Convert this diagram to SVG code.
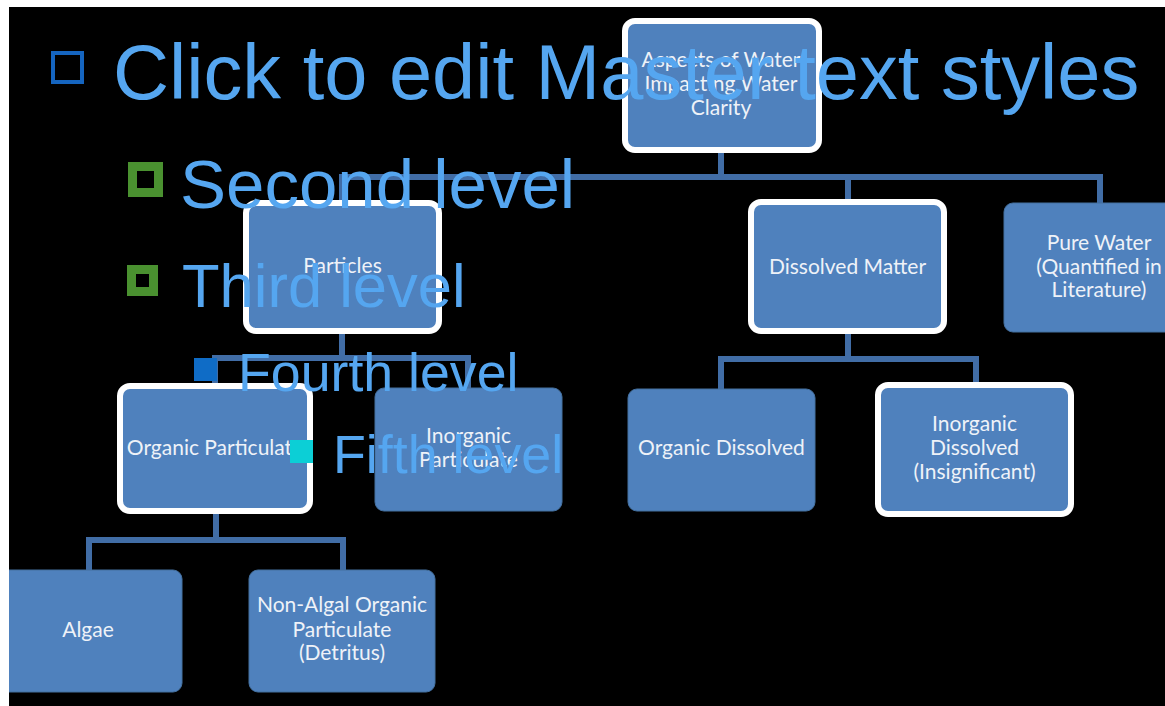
<svg xmlns="http://www.w3.org/2000/svg" width="1165" height="706" viewBox="0 0 1165 706">
<defs>
<clipPath id="slide"><rect x="9" y="7" width="1156" height="699"/></clipPath>
<style>
.box{fill:#4f81bd;}
.plain{stroke:#44709f;stroke-width:1;}
.bord{stroke:#ffffff;stroke-width:6;}
.lbl{font-family:Lato,"Liberation Sans",sans-serif;font-size:21px;fill:#eef2f8;text-anchor:middle;}
.conn{fill:none;stroke:#416da6;stroke-width:6;stroke-linejoin:miter;}
.ph{font-family:"Liberation Sans",Arial,sans-serif;fill:#55a6f0;}
</style>
</defs>
<rect x="0" y="0" width="1165" height="706" fill="#ffffff"/>
<rect x="9" y="7" width="1156" height="699" fill="#000000"/>
<g clip-path="url(#slide)">
<g id="connectors">
<path class="conn" d="M342,203 V177 H1100 V206"/>
<path class="conn" d="M721,150 V177"/>
<path class="conn" d="M848,177 V202"/>
<path class="conn" d="M342,331 V358"/>
<path class="conn" d="M215,386 V358 H468 V390"/>
<path class="conn" d="M848,331 V359"/>
<path class="conn" d="M721,391 V359 H976 V385"/>
<path class="conn" d="M216,511 V540"/>
<path class="conn" d="M89,572 V540 H343 V572"/>
</g>
<g id="node-root">
<rect class="box bord" x="625" y="21" width="194" height="129" rx="10"/>
<text class="lbl" x="721" y="67">Aspects of Water</text>
<text class="lbl" x="721" y="91">Impacting Water</text>
<text class="lbl" x="721" y="115">Clarity</text>
</g>
<g id="node-particles">
<rect class="box bord" x="246" y="203" width="193" height="128" rx="10"/>
<text class="lbl" x="342.5" y="273">Particles</text>
</g>
<g id="node-dissolved">
<rect class="box bord" x="751" y="202" width="193" height="129" rx="10"/>
<text class="lbl" x="847.5" y="274">Dissolved Matter</text>
</g>
<g id="node-purewater">
<rect class="box plain" x="1004" y="203" width="192" height="129" rx="9"/>
<text class="lbl" x="1099" y="250">Pure Water</text>
<text class="lbl" x="1099" y="274">(Quantified in</text>
<text class="lbl" x="1099" y="297">Literature)</text>
</g>
<g id="node-organic-particulate">
<rect class="box bord" x="120" y="386" width="190" height="125" rx="10"/>
<text class="lbl" x="215" y="455">Organic Particulate</text>
</g>
<g id="node-inorganic-particulate">
<rect class="box plain" x="375" y="388" width="187" height="123" rx="9"/>
<text class="lbl" x="468.5" y="443">Inorganic</text>
<text class="lbl" x="468.5" y="467">Particulate</text>
</g>
<g id="node-organic-dissolved">
<rect class="box plain" x="628" y="389" width="187" height="122" rx="9"/>
<text class="lbl" x="721.5" y="455">Organic Dissolved</text>
</g>
<g id="node-inorganic-dissolved">
<rect class="box bord" x="878" y="385" width="193" height="129" rx="10"/>
<text class="lbl" x="974.5" y="431">Inorganic</text>
<text class="lbl" x="974.5" y="455">Dissolved</text>
<text class="lbl" x="974.5" y="479">(Insignificant)</text>
</g>
<g id="node-algae">
<rect class="box plain" x="-4" y="570" width="186" height="122" rx="9"/>
<text class="lbl" x="88" y="637">Algae</text>
</g>
<g id="node-nonalgal">
<rect class="box plain" x="249" y="570" width="186" height="122" rx="9"/>
<text class="lbl" x="342" y="612">Non-Algal Organic</text>
<text class="lbl" x="342" y="637">Particulate</text>
<text class="lbl" x="342" y="660">(Detritus)</text>
</g>
</g>
<g id="placeholder-text">
<rect x="53" y="53" width="29" height="29" fill="none" stroke="#1565c0" stroke-width="4"/>
<text class="ph" x="113" y="99" font-size="77.6">Click to edit Master text styles</text>
<rect x="132.5" y="166.5" width="26" height="26" fill="none" stroke="#4a9130" stroke-width="9"/>
<text class="ph" x="180" y="208" font-size="69">Second level</text>
<rect x="131.5" y="269.5" width="22" height="22" fill="none" stroke="#4a9130" stroke-width="9"/>
<text class="ph" x="182" y="307" font-size="61.5">Third level</text>
<rect x="194" y="358" width="23" height="23" fill="#0f6cc6"/>
<text class="ph" x="238" y="391" font-size="53.7">Fourth level</text>
<rect x="290" y="440" width="23" height="23" fill="#0ccfd6"/>
<text class="ph" x="333" y="473" font-size="53.8">Fifth level</text>
</g>
</svg>
